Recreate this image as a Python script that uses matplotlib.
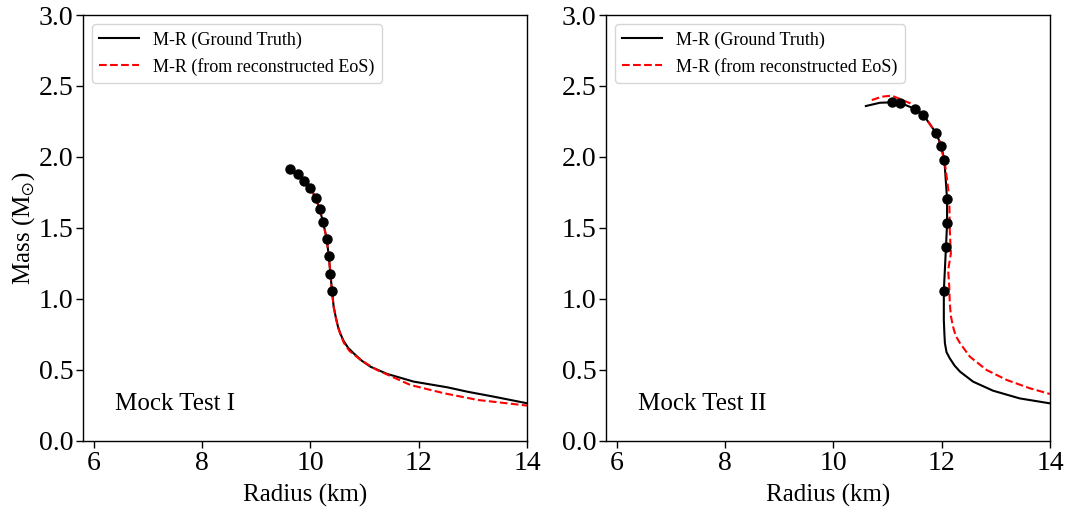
import matplotlib
matplotlib.use("Agg")
import matplotlib.pyplot as plt
import numpy as np

plt.rcParams['font.family'] = ['Liberation Serif', 'DejaVu Serif']
plt.rcParams['mathtext.fontset'] = 'stix'

# Mock Test I
r1_true = [9.63, 9.77, 9.89, 10.0, 10.10, 10.17, 10.235, 10.30, 10.34, 10.37, 10.40, 10.43, 10.47, 10.51, 10.56, 10.62, 10.70, 10.80, 10.95, 11.11, 11.42, 11.91, 12.53, 12.90, 13.39, 14.01]
m1_true = [1.915, 1.88, 1.833, 1.78, 1.713, 1.632, 1.542, 1.425, 1.303, 1.178, 1.054, 0.946, 0.87, 0.805, 0.75, 0.70, 0.655, 0.617, 0.565, 0.523, 0.472, 0.418, 0.378, 0.347, 0.312, 0.265]
r1_rec = [9.70, 9.77, 9.89, 10.0, 10.10, 10.17, 10.235, 10.30, 10.34, 10.37, 10.40, 10.43, 10.47, 10.51, 10.56, 10.62, 10.72, 10.93, 11.23, 11.85, 12.47, 13.09, 14.01]
m1_rec = [1.89, 1.875, 1.830, 1.778, 1.711, 1.630, 1.540, 1.423, 1.301, 1.176, 1.052, 0.944, 0.868, 0.80, 0.745, 0.69, 0.635, 0.57, 0.50, 0.394, 0.336, 0.289, 0.249]
r1_obs = [9.63, 9.77, 9.89, 10.0, 10.10, 10.17, 10.235, 10.30, 10.34, 10.37, 10.40]
m1_obs = [1.915, 1.88, 1.833, 1.78, 1.713, 1.632, 1.542, 1.425, 1.303, 1.178, 1.054]

# Mock Test II
r2_true = [10.60, 10.86, 11.08, 11.23, 11.51, 11.66, 11.90, 11.99, 12.05, 12.10, 12.10, 12.08, 12.04, 12.04, 12.05, 12.06, 12.09, 12.15, 12.24, 12.34, 12.58, 12.95, 13.44, 14.0]
m2_true = [2.359, 2.382, 2.385, 2.382, 2.338, 2.298, 2.167, 2.08, 1.979, 1.702, 1.533, 1.368, 1.056, 0.852, 0.76, 0.688, 0.625, 0.582, 0.53, 0.488, 0.418, 0.354, 0.30, 0.265]
r2_rec = [10.71, 10.90, 11.08, 11.42, 11.66, 11.94, 12.06, 12.14, 12.15, 12.17, 12.12, 12.14, 12.15, 12.17, 12.21, 12.26, 12.34, 12.52, 12.83, 13.2, 13.63, 14.0]
m2_rec = [2.401, 2.425, 2.432, 2.378, 2.30, 2.143, 1.955, 1.72, 1.486, 1.32, 1.204, 1.087, 0.97, 0.88, 0.805, 0.74, 0.688, 0.594, 0.50, 0.43, 0.371, 0.331]
r2_obs = [11.08, 11.23, 11.51, 11.66, 11.90, 11.99, 12.05, 12.10, 12.10, 12.08, 12.04]
m2_obs = [2.385, 2.382, 2.338, 2.298, 2.167, 2.08, 1.979, 1.702, 1.533, 1.368, 1.056]

panels = [
    (r1_true, m1_true, r1_rec, m1_rec, r1_obs, m1_obs, "Mock Test I"),
    (r2_true, m2_true, r2_rec, m2_rec, r2_obs, m2_obs, "Mock Test II"),
]

fig = plt.figure(figsize=(10.68, 5.12), dpi=100)
ax1 = fig.add_axes([0.0777, 0.1387, 0.4157, 0.832])
ax2 = fig.add_axes([0.5674, 0.1387, 0.4157, 0.832])

for ax, (rt, mt, rr, mr, ro, mo, label) in zip([ax1, ax2], panels):
    ax.plot(rt, mt, color='black', lw=1.5, label='M-R (Ground Truth)')
    ax.plot(rr, mr, color='red', lw=1.5, ls='--', label='M-R (from reconstructed EoS)')
    ax.plot(ro, mo, 'o', color='black', ms=6.5)
    ax.set_xlim(5.8, 14)
    ax.set_ylim(0, 3.0)
    ax.set_xticks([6, 8, 10, 12, 14])
    ax.set_yticks([0.0, 0.5, 1.0, 1.5, 2.0, 2.5, 3.0])
    ax.set_yticklabels(['0.0', '0.5', '1.0', '1.5', '2.0', '2.5', '3.0'])
    ax.tick_params(labelsize=20, direction='out', length=5, width=1, pad=2)
    ax.set_xlabel('Radius (km)', fontsize=18, labelpad=6)
    ax.text(6.4, 0.215, label, fontsize=18)
    leg = ax.legend(loc='upper left', fontsize=13, frameon=True, fancybox=True, handlelength=2.2)
    leg.get_frame().set_edgecolor('#cccccc')
    for s in ax.spines.values():
        s.set_linewidth(1.0)

ax1.set_ylabel(r'Mass (M$_{\odot}$)', fontsize=18, labelpad=1)

fig.savefig('out.png', dpi=100)
